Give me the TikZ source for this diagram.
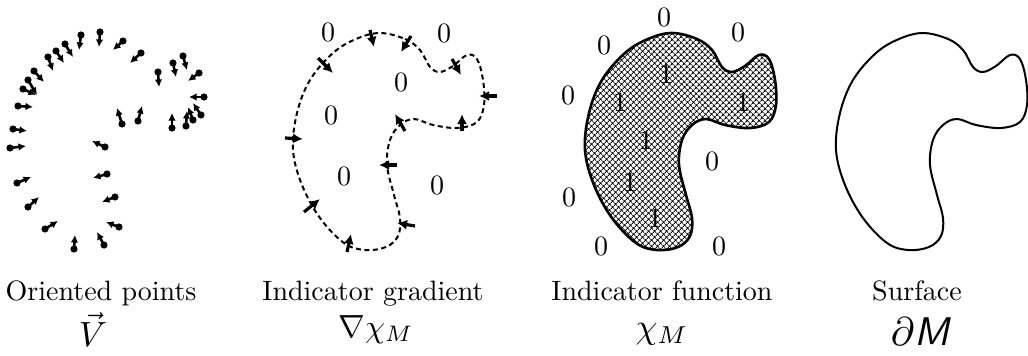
\documentclass[tikz,border=0pt]{standalone}
\usepackage{graphicx}
\usetikzlibrary{arrows.meta,patterns.meta}
\newcommand{\txtS}[1]{\scalebox{2.8}{#1}}
\begin{document}
\begin{tikzpicture}[x=1pt,y=-1pt,
  blob/.pic={\path[pic actions] plot[smooth cycle,tension=0.6] coordinates {
    (87,33) (112,39) (127,50) (137,67) (147,72) (160,66) (174,55) (184,59)
    (190,80) (191,105) (184,122) (165,128) (140,125) (121,119) (107,125)
    (97,140) (94,165) (101,195) (107,218) (105,236) (93,247) (72,250)
    (51,243) (27,218) (9,185) (0,150) (4,113) (17,80) (40,53) (63,39)};},
  ptarrow/.style={line width=2.6pt,-{Latex[length=7.5pt,width=7.5pt]}},
  grarrow/.style={line width=3.2pt,-{Latex[length=10pt,width=10pt]}},
  dig/.style={inner sep=0pt},
  lbl/.style={inner sep=0pt,anchor=base},
]
\useasboundingbox (0,0) rectangle (1028,356);

% ---------- panel 1: oriented points ----------
\foreach \ax/\ay/\bx/\by in {
  100/32/99/47, 81/35/79/50, 65/44/73/57, 56/51/64/63, 48/57/53/71,
  34/71/44/82, 28/80/37/95, 23/89/36/95, 18/106/33/107, 13/129/27/131,
  10/148/26/146, 17/183/31/177, 28/207/39/197, 45/229/58/221, 74/249/75/235,
  104/245/97/232, 119/227/106/222, 115/197/102/202, 107/174/93/178,
  105/147/92/141, 122/124/117/108, 138/121/142/106, 172/128/172/113,
  186/126/187/111, 193/120/188/107, 201/115/193/103, 204/97/189/97,
  199/73/188/81, 183/56/187/70, 173/63/176/77, 158/72/159/87,
  141/53/130/63, 123/41/113/50}{
  \fill (\ax,\ay) circle[radius=3.6];
  \draw[ptarrow] (\ax,\ay) -- (\bx,\by);
}

% ---------- panel 2: indicator gradient ----------
\pic[draw, line width=2pt, dash pattern=on 5pt off 3.5pt] at (293,0) {blob};
\foreach \ax/\ay/\bx/\by in {
  370/30/374/47, 411/36/401/52, 318/58/333/73, 452/59/461/75,
  497/96/479/96, 462/131/462/114, 405/131/395/114, 397/165/379/165,
  285/138/303/139, 304/212/320/199, 415/226/397/223, 347/252/351/234}{
  \draw[grarrow] (\ax,\ay) -- (\bx,\by);
}
\foreach \x/\y [count=\i] in {328/32, 444/33, 401/82, 331/115, 344/176, 437/185}
  \node[dig] (g\i) at (\x,\y) {\txtS{0}};

% ---------- panel 3: indicator function ----------
\pic[draw, line width=2.6pt, pattern={Hatch[angle=45,distance=4pt,line width=0.9pt]}, pattern color=black] at (585,0) {blob};
\foreach \x/\y [count=\i] in {664/17, 738/32, 604/45, 568/95, 712/161, 569/197, 601/246, 719/246}
  \node[dig] (z\i) at (\x,\y) {\txtS{0}};
\foreach \x/\y [count=\i] in {666/74, 620/102, 743/102, 646/140, 630/182, 655/218}
  \node[dig] (o\i) at (\x,\y) {\txtS{1}};

% ---------- panel 4: surface ----------
\pic[draw, line width=2pt] at (836,0) {blob};

% ---------- captions ----------
\node[lbl] (t1) at (101,300) {\txtS{Oriented points}};
\node[lbl] (t2) at (373,300) {\txtS{Indicator gradient}};
\node[lbl] (t3) at (662,300) {\txtS{Indicator function}};
\node[lbl] (t4) at (917,300) {\txtS{Surface}};
\node[lbl] (m1) at (93,346) {\scalebox{3.5}{$\vec{V}$}};
\node[lbl] (m2) at (376,337) {\scalebox{3.2}{$\nabla\chi_M$}};
\node[lbl] (m3) at (662,338) {\scalebox{3.5}{$\chi_M$}};
\node[lbl] (m4) at (921,345) {\scalebox{4}{$\partial$\textsf{\textit{M}}}};
\end{tikzpicture}
\end{document}
